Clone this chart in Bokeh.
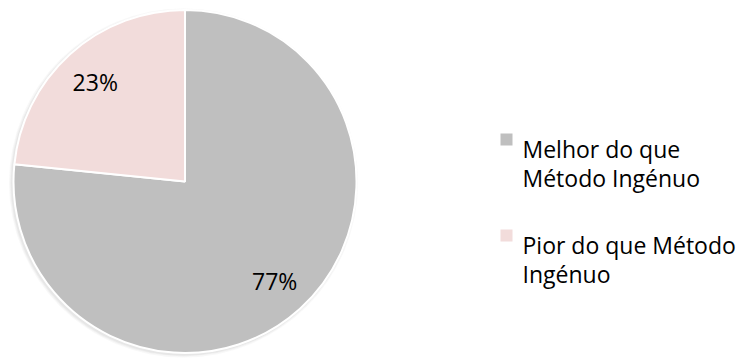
import numpy as np
from bokeh.plotting import figure
from bokeh.models import Range1d
from bokeh.core.properties import value
from bokeh.embed import file_html
from bokeh.resources import INLINE

# ---- data ----
categories = ["Melhor do que Método Ingénuo", "Pior do que Método Ingénuo"]
legend_lines = [["Melhor do que", "Método Ingénuo"], ["Pior do que Método", "Ingénuo"]]
shares = [76.6, 23.4]
colors = ["#BFBFBF", "#F2DCDB"]

W, H = 740, 359
p = figure(width=W, height=H, output_backend="svg", toolbar_location=None,
           x_range=Range1d(0, W), y_range=Range1d(0, H), min_border=0)
p.axis.visible = False
p.grid.visible = False
p.outline_line_color = None
p.background_fill_color = "white"
p.border_fill_color = "white"

def wy(y):  # picture y -> data y
    return H - y

def wx(x):
    return x

cx, cy, r = wx(184.5), wy(181), 171.5

# soft shadow
for i, a in enumerate([0.05, 0.06, 0.08]):
    p.circle(x=[cx - 1.5], y=[cy - 1.5], radius=r + 3 - i, fill_color="#7f7f7f",
             fill_alpha=a, line_color=None)

vals = np.array(shares, dtype=float)
frac = vals / vals.sum()
ang = np.radians(90) - 2 * np.pi * np.concatenate([[0], np.cumsum(frac)])
for k in range(len(vals)):
    start, end = ang[k + 1], ang[k]
    p.wedge(x=[cx], y=[cy], radius=r, start_angle=[start], end_angle=[end],
            direction="anticlock", fill_color=colors[k], line_color="white", line_width=2)
    mid = (start + end) / 2
    lx = cx + 0.78 * r * np.cos(mid)
    ly = cy + 0.78 * r * np.sin(mid)
    p.text(x=[lx], y=[ly], text=[f"{round(frac[k]*100):d}%"], text_font=value("Open Sans"),
           text_font_size="23px", text_align="center", text_baseline="middle", text_color="black")

# legend
leg_x_sq, leg_x_txt = wx(506), wx(522)
item_top = [148, 244]
line_h = 29
for k, lines in enumerate(legend_lines):
    base = item_top[k]
    p.rect(x=[leg_x_sq], y=[wy(base - 9)], width=12, height=12, fill_color=colors[k], line_color=None)
    for j, t in enumerate(lines):
        p.text(x=[leg_x_txt], y=[wy(base + j * line_h)], text=[t], text_font=value("Open Sans"),
               text_font_size="23px", text_align="left", text_baseline="alphabetic", text_color="black")

open("out.html", "w").write(file_html(p, INLINE))
